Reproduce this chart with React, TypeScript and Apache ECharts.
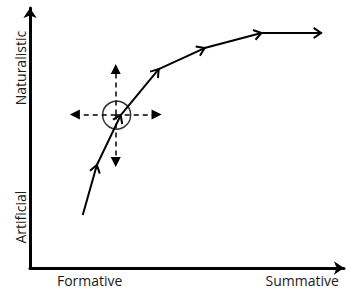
import React, { useEffect, useRef } from "react";
import * as echarts from "echarts";

// Trajectory points (x: formative→summative, y: artificial→naturalistic)
const pathX = [16.8, 21.3, 28.9, 41.0, 55.6, 73.7, 92.7];
const pathY = [20.4, 39.6, 58.8, 76.5, 84.6, 90.4, 90.4];

// Crosshair (centre and arrow tips)
const crossCenter = [27.3, 59.0];
const crossTipsX = [14.3, 40.3];
const crossTipsY = [40.8, 76.5];
const circleCenter = [27.6, 58.8];

// Axis labels
const xLabels = ["Formative", "Summative"];
const xLabelPos = [19, 86.7];
const yLabels = ["Artificial", "Naturalistic"];
const yLabelPos = [19.6, 76.9];

export default function App() {
  const ref = useRef<HTMLDivElement>(null);
  useEffect(() => {
    if (!ref.current) return;
    const chart = echarts.init(ref.current, null, { renderer: "svg" });
    const segments: number[][] = [];
    for (let i = 0; i < pathX.length - 1; i++) {
      segments.push([pathX[i], pathY[i], pathX[i + 1], pathY[i + 1]]);
    }
    const crossLines = [
      { coords: [crossCenter, [crossTipsX[0], crossCenter[1]]] },
      { coords: [crossCenter, [crossTipsX[1], crossCenter[1]]] },
      { coords: [crossCenter, [crossCenter[0], crossTipsY[0]]] },
      { coords: [crossCenter, [crossCenter[0], crossTipsY[1]]] },
    ];
    const font = "'Open Sans', 'Noto Sans', sans-serif";
    chart.setOption({
      animation: false,
      grid: { left: 30, right: 2, top: 8, bottom: 23, containLabel: false },
      xAxis: {
        type: "value",
        min: 0,
        max: 100,
        splitLine: { show: false },
        axisTick: { show: false },
        axisLine: {
          show: true,
          lineStyle: { color: "#000", width: 3 },
          symbol: ["none", "arrow"],
          symbolSize: [10, 10],
          symbolOffset: [0, 0],
        },
        axisLabel: {
          customValues: xLabelPos,
          formatter: (v: number) => xLabels[xLabelPos.indexOf(v)] ?? "",
          color: "#1a1a1a",
          fontSize: 14,
          fontFamily: font,
          margin: 5,
        },
      },
      yAxis: {
        type: "value",
        min: 0,
        max: 100,
        splitLine: { show: false },
        axisTick: { show: false },
        axisLine: {
          show: true,
          lineStyle: { color: "#000", width: 3 },
          symbol: ["none", "arrow"],
          symbolSize: [10, 10],
        },
        axisLabel: {
          customValues: yLabelPos,
          formatter: (v: number) => yLabels[yLabelPos.indexOf(v)] ?? "",
          color: "#1a1a1a",
          fontSize: 14,
          fontFamily: font,
          rotate: 90,
          margin: 3,
        },
      },
      series: [
        {
          type: "custom",
          coordinateSystem: "cartesian2d",
          data: segments,
          encode: { x: [0, 2], y: [1, 3] },
          renderItem: (params: any, api: any) => {
            const p1 = api.coord([api.value(0), api.value(1)]);
            const p2 = api.coord([api.value(2), api.value(3)]);
            const ang = Math.atan2(p2[1] - p1[1], p2[0] - p1[0]);
            const L = 9;
            const spread = 0.6;
            const a = [p2[0] - L * Math.cos(ang - spread), p2[1] - L * Math.sin(ang - spread)];
            const b = [p2[0] - L * Math.cos(ang + spread), p2[1] - L * Math.sin(ang + spread)];
            return {
              type: "group",
              children: [
                {
                  type: "line",
                  shape: { x1: p1[0], y1: p1[1], x2: p2[0], y2: p2[1] },
                  style: { stroke: "#000", lineWidth: 2 },
                },
                {
                  type: "polyline",
                  shape: { points: [a, p2, b] },
                  style: { stroke: "#000", lineWidth: 2, fill: null },
                },
              ],
            };
          },
        },
        {
          type: "lines",
          coordinateSystem: "cartesian2d",
          data: crossLines,
          symbol: ["none", "triangle"],
          symbolSize: 10,
          lineStyle: { color: "#000", width: 1.5, type: [5, 4], opacity: 1 },
          itemStyle: { color: "#000" },
        },
        {
          type: "scatter",
          data: [circleCenter],
          symbol: "circle",
          symbolSize: 28,
          itemStyle: { color: "rgba(0,0,0,0)", borderColor: "#000", borderWidth: 1.5 },
        },
      ],
    });
    return () => chart.dispose();
  }, []);
  return <div ref={ref} style={{ width: 346, height: 291, position: "absolute", left: 0, top: 0 }} />;
}
